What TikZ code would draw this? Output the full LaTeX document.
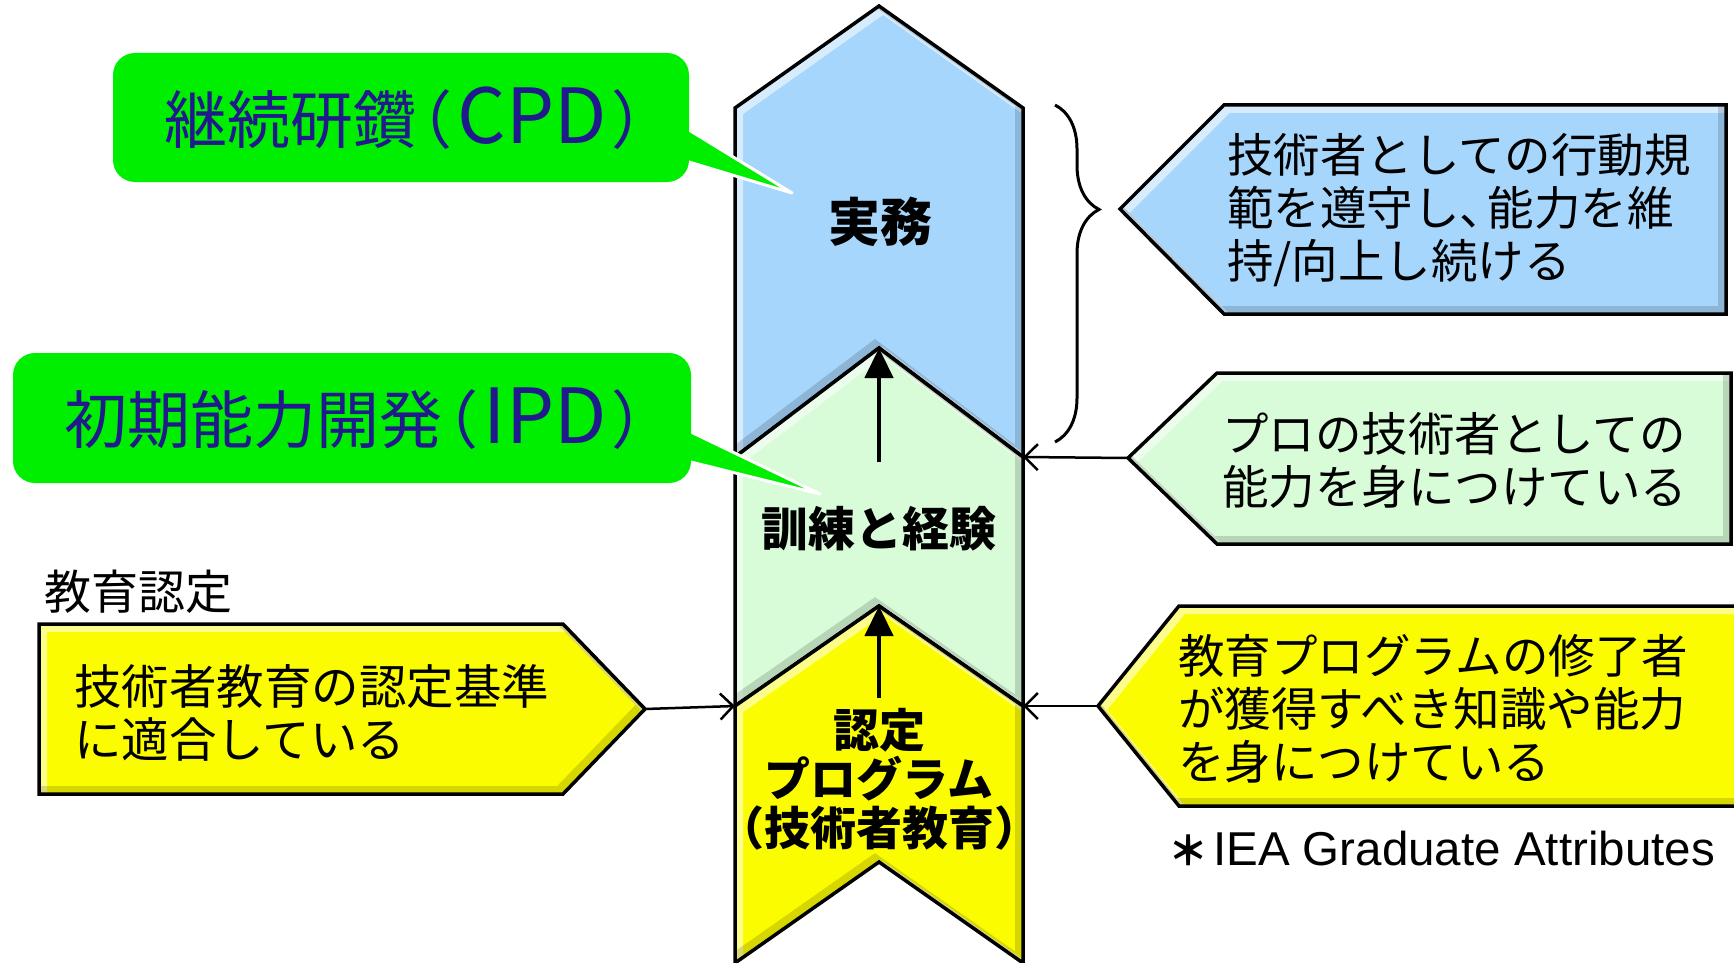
\documentclass[tikz,border=0pt]{standalone}
\usepackage{fontspec}
\setmainfont{Noto Sans CJK JP}
\newfontfamily\latinfont{Liberation Sans}
\usetikzlibrary{arrows.meta,decorations.pathreplacing}
\definecolor{cblue}{RGB}{166,214,252}
\definecolor{cgreen}{RGB}{216,251,216}
\definecolor{cyellow}{RGB}{252,252,0}
\definecolor{callout}{RGB}{0,238,0}
\definecolor{callouttext}{RGB}{32,26,140}
\newcommand\bevelshape[2]{%
  \fill[#1] #2;
  \begin{scope}
    \clip #2;
    \draw[white, opacity=.55, line width=8pt, shift={(4,4)}] #2;
    \draw[black, opacity=.15, line width=8pt, shift={(-4,-4)}] #2;
  \end{scope}
  \draw[outline] #2;
}
\newcommand\bigLatin[1]{{\fontsize{76}{76}\selectfont #1}}
\begin{document}
\begin{tikzpicture}[x=1pt,y=-1pt,
  outline/.style={draw=black, line width=3.5pt, line join=miter},
  jtext/.style={inner sep=0pt, align=left, anchor=west, font=\fontsize{46.5}{53}\selectfont},
  ctext/.style={inner sep=0pt, align=center, font=\bfseries},
  calltext/.style={inner sep=0pt, anchor=west, text=callouttext, font=\fontsize{63}{70}\selectfont},
  conn/.style={line width=2.5pt, -{Straight Barb[length=13pt,width=26pt]}},
  uparrow/.style={line width=4.5pt, -{Triangle[length=30pt,width=28pt]}},
  wedge/.style={fill=callout, draw=white, line width=3pt, line join=round},
]
\useasboundingbox (0,0) rectangle (1734,963);

% central chevron column
\bevelshape{cblue}{(735,108) -- (879,6) -- (1023,108) -- (1023,457) -- (879,348) -- (735,457) -- cycle}
\bevelshape{cgreen}{(735,457) -- (879,348) -- (1023,457) -- (1023,706) -- (879,606) -- (735,706) -- cycle}
\bevelshape{cyellow}{(735,706) -- (879,606) -- (1023,706) -- (1023,963) -- (879,862) -- (735,963) -- cycle}

\coordinate (apexG) at (879,348);
\coordinate (apexY) at (879,606);
\coordinate (a1s) at (879,462);
\coordinate (a2s) at (879,698);
\draw[uparrow] (a1s) -- (apexG);
\draw[uparrow] (a2s) -- (apexY);

\node[ctext, font=\fontsize{52}{56}\selectfont\bfseries] (jitsumu) at (880,222) {実務};
\node[ctext, font=\fontsize{47}{50}\selectfont\bfseries] (kunren) at (879,529) {訓練と経験};
\node[ctext, font=\fontsize{46}{49}\selectfont\bfseries] (nintei) at (879,779)
  {認定\\プログラム\\\mbox{\kern-.45em（技術者教育）\kern-.45em}};

% callouts
\fill[wedge] (670,118.4) -- (792,193) -- (670,156.3) -- cycle;
\fill[callout, rounded corners=22pt] (113,53) rectangle (689,182);
\node[calltext] (cpd) at (164,118) {継続研鑽\kern-.42em（\kern5pt\bigLatin{CPD}\kern5pt）};

\fill[wedge] (672,422.9) -- (820,494) -- (672,457.3) -- cycle;
\fill[callout, rounded corners=22pt] (13,353) rectangle (691,483);
\node[calltext] (ipd) at (64,419) {初期能力開発\kern-.42em（\kern5pt\bigLatin{IPD}\kern5pt）};

% brace
\coordinate (bt) at (1055,105);
\coordinate (bb) at (1055,442);
\draw[line width=3pt, decorate, decoration={brace, amplitude=44pt, aspect=0.31}] (bt) -- (bb);

% right pentagons
\bevelshape{cblue}{(1120,209) -- (1224,105) -- (1726,105) -- (1726,314) -- (1224,314) -- cycle}
\node[jtext] (tblue) at (1227,210) {技術者としての行動規\\範を遵守し{、}\kern-.4em 能力を維\\持/向上し続ける};

\bevelshape{cgreen}{(1128,458) -- (1217,373) -- (1731,373) -- (1731,544) -- (1217,544) -- cycle}
\node[jtext] (tgreen) at (1222,460) {プロの技術者としての\\能力を身につけている};

\bevelshape{cyellow}{(1098,706) -- (1179,606) -- (1745,606) -- (1745,806) -- (1179,806) -- cycle}
\node[jtext] (tyellow) at (1178,709) {教育プログラムの修了者\\が獲得すべき知識や能力\\を身につけている};

% left pentagon
\node[jtext, font=\fontsize{47}{53}\selectfont] (kyoiku) at (44,592) {教育認定};
\bevelshape{cyellow}{(39,624) -- (563,624) -- (645,709) -- (563,794) -- (39,794) -- cycle}
\node[jtext, font=\fontsize{47.5}{53}\selectfont] (tleft) at (74,713) {技術者教育の認定基準\\に適合している};

% connectors
\coordinate (gtip) at (1128,458);
\coordinate (gsh) at (1023,457);
\coordinate (ytip) at (1098,706);
\coordinate (ysh) at (1023,706);
\coordinate (ltip) at (645,709);
\coordinate (lsh) at (735,706);
\draw[conn] (gtip) -- (gsh);
\draw[conn] (ytip) -- (ysh);
\draw[conn] (ltip) -- (lsh);

% note
\node[inner sep=0pt, anchor=west, font=\fontsize{47.5}{50}\selectfont] (iea) at (1168,849)
  {{\fontsize{40}{42}\selectfont\bfseries ＊}\kern5pt{\latinfont IEA Graduate Attributes}};
\end{tikzpicture}
\end{document}
